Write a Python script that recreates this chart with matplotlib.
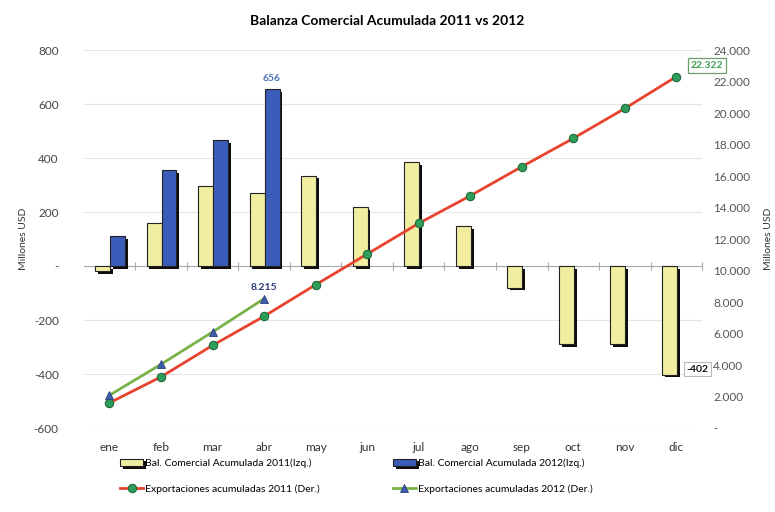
import matplotlib.pyplot as plt
import matplotlib.patheffects as pe
import numpy as np

plt.rcParams['font.family'] = ['Lato', 'DejaVu Sans']

meses = ['ene', 'feb', 'mar', 'abr', 'may', 'jun', 'jul', 'ago', 'sep', 'oct', 'nov', 'dic']
bal_2011 = [-20, 160, 298, 272, 335, 218, 385, 148, -80, -290, -290, -402]
bal_2012 = [110, 357, 467, 656]
exp_2011 = [1600, 3250, 5250, 7100, 9100, 11050, 13000, 14750, 16600, 18400, 20300, 22322]
exp_2012 = [2080, 4050, 6100, 8215]

left_ticks = [800, 600, 400, 200, 0, -200, -400, -600]
right_ticks = list(range(0, 24001, 2000))

def miles(v):
    return '-' if v == 0 else f'{v:,.0f}'.replace(',', '.')

fig = plt.figure(figsize=(7.75, 5.12), dpi=100)
ax = fig.add_axes([0.108, 0.164, 0.798, 0.738])
ax2 = ax.twinx()

x = np.arange(len(meses))
w = 0.29
shadow = [pe.SimplePatchShadow(offset=(2, -2), shadow_rgbFace='black', alpha=0.95), pe.Normal()]

b1 = ax.bar(x - w / 2 + 0.01, bal_2011, w, color='#F1EEA2', edgecolor='#222222', linewidth=0.8,
            path_effects=shadow, zorder=3, label='Bal. Comercial Acumulada 2011(Izq.)')
b2 = ax.bar(x[:len(bal_2012)] + w / 2 + 0.01, bal_2012, w, color='#3B5CB8', edgecolor='#222222',
            linewidth=0.8, path_effects=shadow, zorder=3, label='Bal. Comercial Acumulada 2012(Izq.)')

ax.set_xlim(-0.5, len(meses) - 0.5)
ax.set_ylim(-600, 800)
ax.set_yticks(left_ticks)
ax.set_yticklabels([miles(v) for v in left_ticks])
ax.grid(axis='y', color='#e4e4e4', linewidth=0.8, zorder=0)
for s in ['top', 'right', 'left']:
    ax.spines[s].set_visible(False)
ax.spines['bottom'].set_position(('data', 0))
ax.spines['bottom'].set_color('#aaaaaa')
ax.spines['bottom'].set_zorder(2)
ax.set_xticks(x + 0.5, minor=False)
ax.set_xticklabels([])
ax.tick_params(axis='x', direction='inout', length=6, color='#aaaaaa')
ax.tick_params(axis='y', length=0, labelsize=8.5, labelcolor='#444444', pad=18)
ax.set_ylabel('Millones USD', fontsize=7.5, color='#333333', labelpad=4)

sec = ax.secondary_xaxis(0)
sec.set_xticks(x)
sec.set_xticklabels(meses)
sec.tick_params(length=0, labelsize=8.5, labelcolor='#333333', pad=10)
sec.spines['bottom'].set_visible(False)

l1, = ax2.plot(x, exp_2011, color='#E8432E', linewidth=2, marker='o', markersize=6,
               markerfacecolor='#2E9E5A', markeredgecolor='#1d6b3a', markeredgewidth=0.8,
               label='Exportaciones acumuladas 2011 (Der.)', zorder=4)
l2, = ax2.plot(x[:len(exp_2012)], exp_2012, color='#79B248', linewidth=2, marker='^', markersize=6,
               markerfacecolor='#3F5DAE', markeredgecolor='#2b3f7a', markeredgewidth=0.6,
               label='Exportaciones acumuladas 2012 (Der.)', zorder=4)
ax2.set_ylim(0, 24000)
ax2.set_yticks(right_ticks)
ax2.set_yticklabels([miles(v) for v in right_ticks])
ax2.tick_params(axis='y', length=0, labelsize=8.5, labelcolor='#555555', pad=8)
for s in ax2.spines.values():
    s.set_visible(False)
ax2.set_ylabel('Millones USD', fontsize=7.5, color='#333333', labelpad=10)

# etiquetas de datos
ax.annotate(str(bal_2012[3]), (x[3] + w / 2, bal_2012[3]), xytext=(0, 6), textcoords='offset points',
            ha='center', fontsize=7.5, fontweight='bold', color='#4A78B8')
ax2.annotate(miles(exp_2012[3]), (x[3], exp_2012[3]), xytext=(0, 6), textcoords='offset points',
             ha='center', fontsize=7.5, fontweight='bold', color='#2E3A78')
ax2.annotate(miles(exp_2011[-1]), (x[-1], exp_2011[-1]), xytext=(22, 8), textcoords='offset points',
             ha='center', va='center', fontsize=7.5, fontweight='bold', color='#3E9E4E',
             bbox=dict(boxstyle='square,pad=0.25', fc='white', ec='#6a9f6a', lw=0.9))
ax.annotate(str(bal_2011[-1]), (x[-1], bal_2011[-1]), xytext=(15, 4), textcoords='offset points',
            ha='center', va='center', fontsize=7.5, fontweight='bold', color='#111111',
            bbox=dict(boxstyle='square,pad=0.25', fc='white', ec='#bbbbbb', lw=0.8))

fig.suptitle('Balanza Comercial Acumulada 2011 vs 2012', x=0.5, y=0.97, fontsize=10, fontweight='bold')

fig.legend([b1, l1, b2, l2], [b1.get_label(), l1.get_label(), b2.get_label(), l2.get_label()],
           ncol=2, loc='center', bbox_to_anchor=(0.46, 0.07), frameon=False, fontsize=7.5,
           columnspacing=7, handlelength=2.2, handletextpad=0.2, labelspacing=1.6)

fig.savefig('out.png', dpi=100)
